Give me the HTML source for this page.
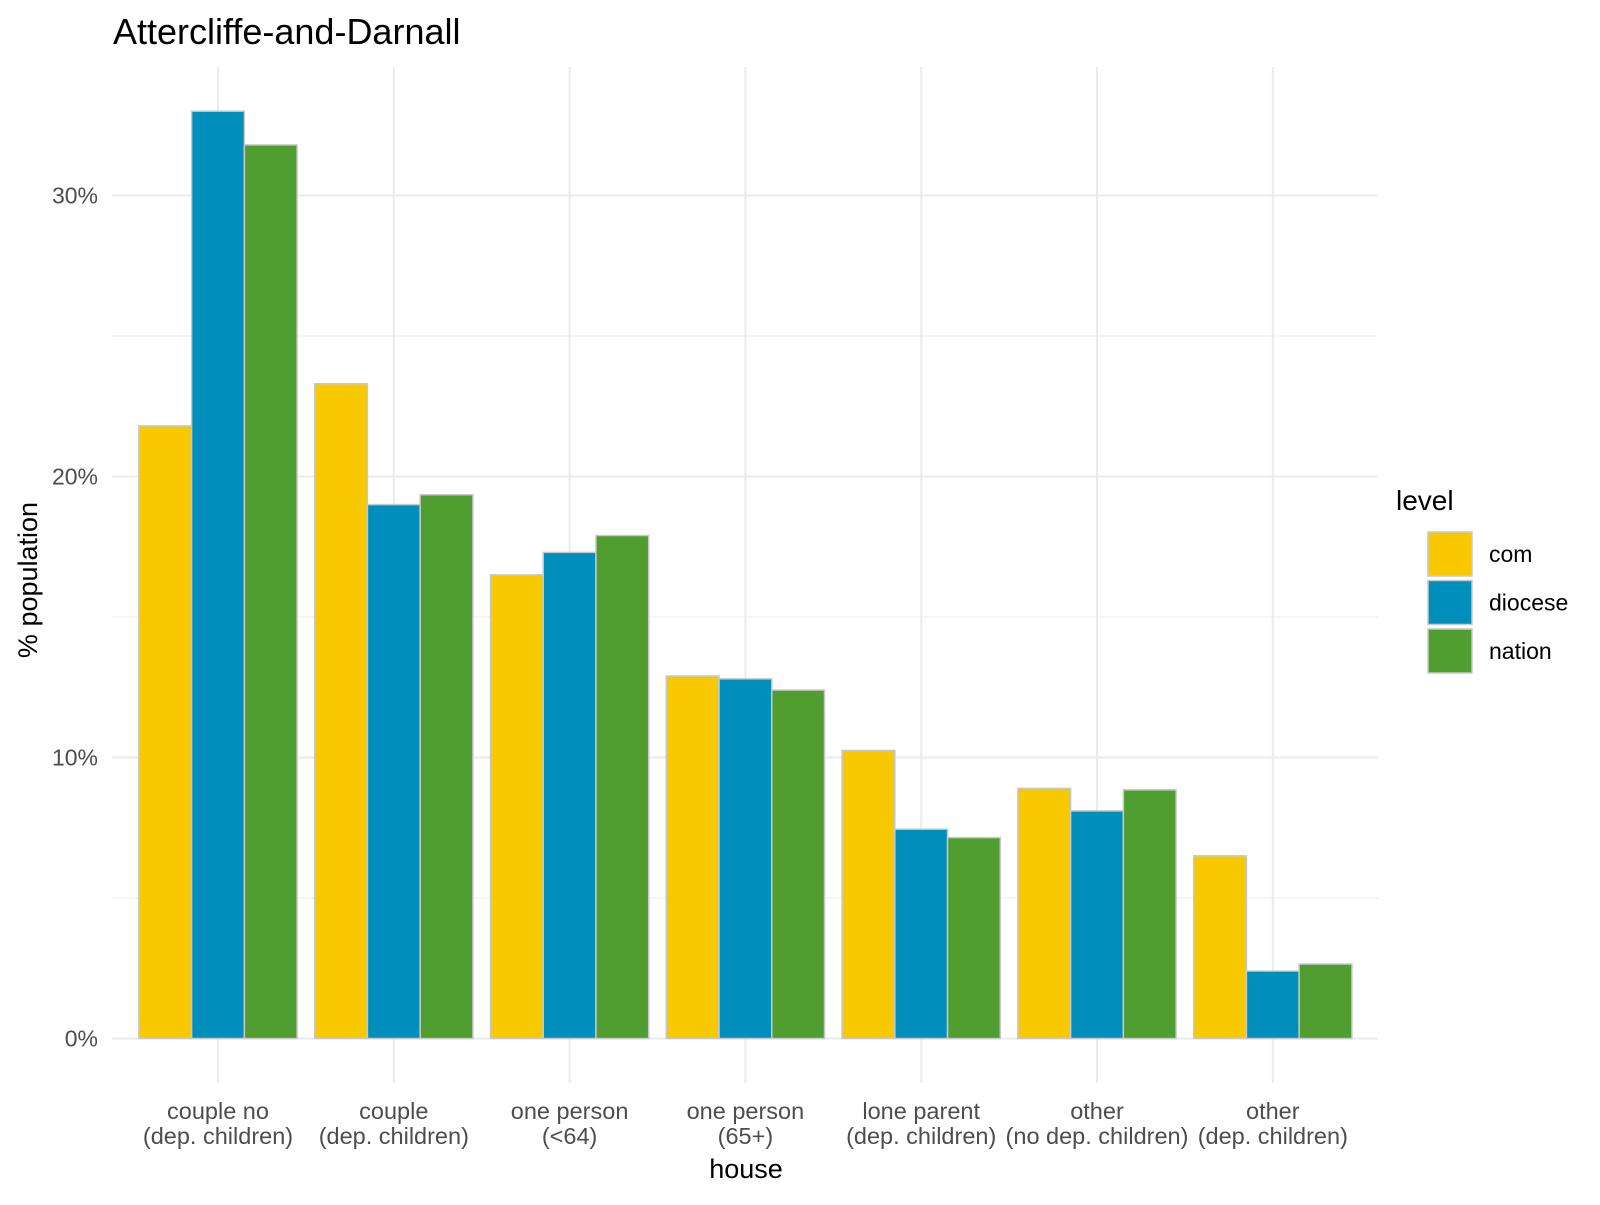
<!DOCTYPE html>
<html><head><meta charset="utf-8"><style>
body{margin:0;background:#fff;font-family:"Liberation Sans",Arial,sans-serif}
svg text{font-family:"Liberation Sans",Arial,sans-serif}
</style></head><body>
<svg id="chart" width="1600" height="1200">
<text x="113" y="44" font-size="36" fill="#000">Attercliffe-and-Darnall</text>
<g id="grid"></g><g id="bars"></g><g id="axes"></g>
<text transform="translate(37,580) rotate(-90)" text-anchor="middle" font-size="27" fill="#000">% population</text>
<text x="746" y="1178" text-anchor="middle" font-size="27" fill="#000">house</text>
<g id="legend"></g>
</svg>
<script>
const categories=[["couple no","(dep. children)"],["couple","(dep. children)"],["one person","(<64)"],["one person","(65+)"],["lone parent","(dep. children)"],["other","(no dep. children)"],["other","(dep. children)"]];
const seriesNames=["com","diocese","nation"];
const comValues=[21.8,23.3,16.5,12.9,10.25,8.9,6.5];
const dioceseValues=[33.0,19.0,17.3,12.8,7.45,8.1,2.4];
const nationValues=[31.8,19.35,17.9,12.4,7.15,8.85,2.65];
const yTicks=[0,10,20,30];
const yTickLabels=["0%","10%","20%","30%"];
const colors=["#F8C800","#008FBC","#509E2F"];
const ns="http://www.w3.org/2000/svg";
const L=112,R=1378,T=67,B=1083,zeroY=1038.5,per=28.1,x0=218,step=175.8,bw=step*0.9/3;
const y=v=>zeroY-v*per, x=i=>x0+i*step;
function mk(t,a,p){const e=document.createElementNS(ns,t);for(const k in a)e.setAttribute(k,a[k]);p.appendChild(e);return e;}
const grid=document.getElementById('grid'),bars=document.getElementById('bars'),axes=document.getElementById('axes'),leg=document.getElementById('legend');
for(let v=5;v<35;v+=10){const l=mk('line',{x1:L,x2:R,y1:y(v),y2:y(v),stroke:'#f0f0f0','stroke-width':1.2},grid);

}
yTicks.forEach((v,i)=>{const l=mk('line',{x1:L,x2:R,y1:y(v),y2:y(v),stroke:'#ebebeb','stroke-width':2},grid);


const t=mk('text',{x:98,y:y(v)+8,'text-anchor':'end','font-size':23,fill:'#4d4d4d'},axes);t.textContent=yTickLabels[i];

});
categories.forEach((c,i)=>{const l=mk('line',{x1:x(i),x2:x(i),y1:T,y2:B,stroke:'#ebebeb','stroke-width':2},grid);


c.forEach((s,j)=>{const t=mk('text',{x:x(i),y:1119+j*25,'text-anchor':'middle','font-size':23.5,fill:'#4d4d4d'},axes);t.textContent=s;

});});
[comValues,dioceseValues,nationValues].forEach((vals,s)=>{vals.forEach((v,i)=>{
const bx=x(i)-1.5*bw+s*bw;
const r=mk('rect',{x:bx,y:y(v),width:bw,height:zeroY-y(v),fill:colors[s],stroke:'#c8c8c8','stroke-width':1.5},bars);

});});
const lt=mk('text',{x:1396,y:510,'font-size':28,fill:'#000'},leg);lt.textContent='level';


seriesNames.forEach((n,s)=>{const yy=532+s*48.5;
const r=mk('rect',{x:1428,y:yy,width:44,height:44,fill:colors[s],stroke:'#c8c8c8','stroke-width':1.5},leg);


const t=mk('text',{x:1489,y:yy+30,'font-size':23,fill:'#000'},leg);t.textContent=n;

});
</script>
</body></html>
